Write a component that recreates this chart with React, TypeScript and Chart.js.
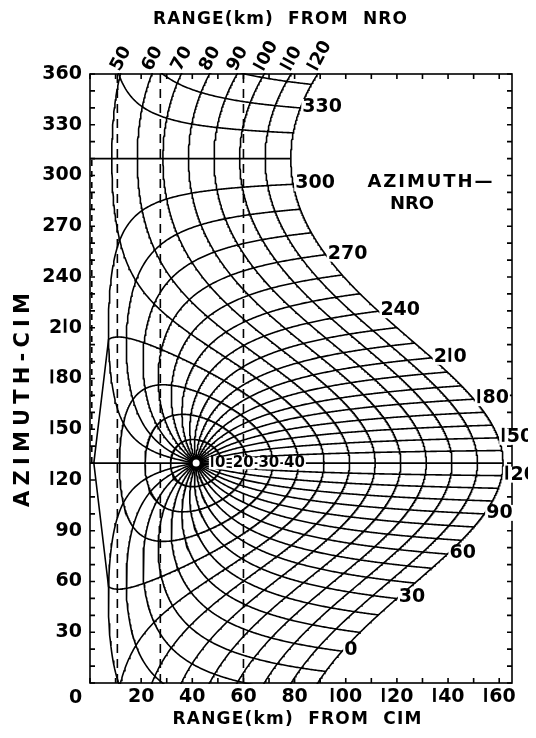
import React, { useEffect, useRef } from "react";
import { Chart, registerables } from "chart.js";
Chart.register(...registerables);

// ---- data ----
const NRO_RANGE_KM = 41.5; // NRO position seen from CIM
const NRO_AZIMUTH_DEG = 130;
const NRO_RANGE_RINGS = [10, 20, 30, 40, 50, 60, 70, 80, 90, 100, 110, 120];
const NRO_AZIMUTH_LINES = [0, 10, 20, 30, 40, 50, 60, 70, 80, 90, 100, 110, 120, 130, 140, 150, 160, 170, 180, 190, 200, 210, 220, 230, 240, 250, 260, 270, 280, 290, 300, 310, 320, 330, 340, 350];
const NRO_AZIMUTH_LABELS = [0, 30, 60, 90, 120, 150, 180, 210, 240, 270, 300, 330];
const TOP_RANGE_LABELS = [50, 60, 70, 80, 90, 100, 110, 120];
const INNER_RANGE_LABELS = [10, 20, 30, 40];
const DASHED_CIM_RANGES = [10.7, 27.5, 60];
const X_TICKS = [20, 40, 60, 80, 100, 120, 140, 160];
const Y_TICKS = [30, 60, 90, 120, 150, 180, 210, 240, 270, 300, 330, 360];
const X_MAX = 165;
const Y_MAX = 360;
const MAX_NRO_RANGE = 120;
const GRID_STEP_DEG = 10;

// ---- geometry ----
const toRad = (d: number) => (d * Math.PI) / 180;
const NX = NRO_RANGE_KM * Math.sin(toRad(NRO_AZIMUTH_DEG));
const NY = NRO_RANGE_KM * Math.cos(toRad(NRO_AZIMUTH_DEG));

function fromNro(range: number, az: number) {
  const px = NX + range * Math.sin(toRad(az));
  const py = NY + range * Math.cos(toRad(az));
  let th = (Math.atan2(px, py) * 180) / Math.PI;
  if (th < 0) th += 360;
  return { r: Math.hypot(px, py), th };
}

type P = { x: number; y: number };

function buildSegments(samples: { r: number; th: number }[]): P[][] {
  const segs: P[][] = [];
  let cur: P[] = [];
  let prev: number | null = null;
  for (const s of samples) {
    let th = s.th;
    if (prev !== null) {
      while (th - prev > 180) th -= 360;
      while (th - prev < -180) th += 360;
      if (Math.abs(th - prev) > 90) {
        segs.push(cur);
        cur = [];
        th = s.th;
      }
    }
    cur.push({ x: s.r, y: th });
    prev = th;
  }
  segs.push(cur);
  const out: P[][] = [];
  for (const seg of segs) {
    if (seg.length < 2) continue;
    out.push(seg);
    const ys = seg.map((p) => p.y);
    const mn = Math.min(...ys);
    const mx = Math.max(...ys);
    if (mx > 360) out.push(seg.map((p) => ({ x: p.x, y: p.y - 360 })));
    if (mn < 0) out.push(seg.map((p) => ({ x: p.x, y: p.y + 360 })));
  }
  return out;
}

function ringSegments(R: number): P[][] {
  const samples: { r: number; th: number }[] = [];
  const far = NRO_AZIMUTH_DEG + 180;
  // rings whose tip nearly touches CIM are joined straight between grid vertices there
  const straightTip = R < NRO_RANGE_KM && NRO_RANGE_KM - R < 5;
  for (let a = -180; a <= 180; a += 0.5) {
    if (straightTip && Math.abs(a) < GRID_STEP_DEG && a !== 0) continue;
    samples.push(fromNro(R, far + a));
  }
  return buildSegments(samples);
}

function azimuthSegments(az: number): P[][] {
  const rs = [0];
  for (let v = 0.25; v < MAX_NRO_RANGE; v += 0.5) rs.push(v);
  rs.push(MAX_NRO_RANGE);
  return buildSegments(rs.map((R) => fromNro(R, az)));
}

const solid = (data: P[]) => ({
  data,
  showLine: true,
  borderColor: "#000",
  borderWidth: 1.6,
  pointRadius: 0,
  fill: false,
  tension: 0,
  clip: 1,
});

function buildDatasets() {
  const ds: any[] = [];
  NRO_RANGE_RINGS.forEach((R) => ringSegments(R).forEach((s) => ds.push(solid(s))));
  NRO_AZIMUTH_LINES.forEach((a) => azimuthSegments(a).forEach((s) => ds.push(solid(s))));
  DASHED_CIM_RANGES.forEach((x) =>
    ds.push({ ...solid([{ x, y: 0 }, { x, y: Y_MAX }]), borderDash: [9, 6] })
  );
  // the NRO azimuth line that runs through CIM itself
  ds.push({
    ...solid([
      { x: 0.7, y: NRO_AZIMUTH_DEG },
      { x: 0.7, y: NRO_AZIMUTH_DEG + 180 },
    ]),
    borderDash: [6, 5],
  });
  return ds;
}

const FONT = '"DejaVu Sans", sans-serif';

function drawSpaced(ctx: CanvasRenderingContext2D, text: string, cx: number, cy: number, targetW: number) {
  const chars = [...text];
  const widths = chars.map((c) => ctx.measureText(c).width);
  const base = widths.reduce((a, b) => a + b, 0);
  const sp = chars.length > 1 ? (targetW - base) / (chars.length - 1) : 0;
  let x = cx - targetW / 2;
  ctx.textAlign = "left";
  ctx.textBaseline = "middle";
  chars.forEach((c, i) => {
    ctx.fillText(c, x, cy);
    x += widths[i] + sp;
  });
}

// numbers drawn with a plain-bar "1", like the original lettering
function numWidth(ctx: CanvasRenderingContext2D, text: string) {
  const w0 = ctx.measureText("0").width;
  return [...text].reduce((s, c) => s + (c === "1" ? w0 * 0.5 : ctx.measureText(c).width), 0);
}
function drawNum(ctx: CanvasRenderingContext2D, text: string, x: number, y: number) {
  const m0 = ctx.measureText("0");
  const w0 = m0.width;
  const top = y - m0.actualBoundingBoxAscent;
  const bot = y + m0.actualBoundingBoxDescent;
  let cx = x;
  ctx.textAlign = "left";
  for (const c of text) {
    if (c === "1") {
      const bw = w0 * 0.2;
      ctx.fillRect(cx + w0 * 0.22 - bw / 2, top, bw, bot - top);
      cx += w0 * 0.5;
    } else {
      ctx.fillText(c, cx, y);
      cx += ctx.measureText(c).width;
    }
  }
}

function labelBg(ctx: CanvasRenderingContext2D, text: string, x: number, y: number, size: number, align: "left" | "center") {
  const w = numWidth(ctx, text);
  const left = align === "center" ? x - w / 2 : x;
  ctx.fillStyle = "#fff";
  ctx.fillRect(left - 1, y - size * 0.42, w + 2, size * 0.84);
  ctx.fillStyle = "#000";
  ctx.textBaseline = "middle";
  drawNum(ctx, text, left, y);
}

const annotPlugin = {
  id: "annot",
  afterDatasetsDraw(chart: any) {
    const { ctx, chartArea: a, scales } = chart;
    const xs = scales.x;
    const ys = scales.y;
    ctx.save();
    ctx.strokeStyle = "#000";
    ctx.fillStyle = "#000";
    ctx.lineWidth = 1.6;
    // NRO site marker
    const nx = xs.getPixelForValue(NRO_RANGE_KM);
    const ny = ys.getPixelForValue(NRO_AZIMUTH_DEG);
    ctx.beginPath();
    ctx.arc(nx, ny, 7.5, 0, Math.PI * 2);
    ctx.fill();
    ctx.fillStyle = "#fff";
    ctx.beginPath();
    ctx.arc(nx, ny, 3.5, 0, Math.PI * 2);
    ctx.fill();
    ctx.fillStyle = "#000";

    // frame with inward ticks
    ctx.strokeRect(a.left, a.top, a.right - a.left, a.bottom - a.top);
    ctx.beginPath();
    for (let v = 0; v <= X_MAX; v += 10) {
      const px = xs.getPixelForValue(v);
      ctx.moveTo(px, a.bottom);
      ctx.lineTo(px, a.bottom - 5);
      ctx.moveTo(px, a.top);
      ctx.lineTo(px, a.top + 5);
    }
    for (let v = 0; v <= Y_MAX; v += 10) {
      const py = ys.getPixelForValue(v);
      ctx.moveTo(a.left, py);
      ctx.lineTo(a.left + 5, py);
      ctx.moveTo(a.right, py);
      ctx.lineTo(a.right - 5, py);
    }
    ctx.stroke();

    // axis tick labels at the scales' own positions
    ctx.font = `bold 19px ${FONT}`;
    ctx.textBaseline = "middle";
    X_TICKS.forEach((v) => {
      const t = String(v);
      drawNum(ctx, t, xs.getPixelForValue(v) - numWidth(ctx, t) / 2, a.bottom + 14);
    });
    Y_TICKS.forEach((v) => {
      const t = String(v);
      drawNum(ctx, t, a.left - 8 - numWidth(ctx, t), ys.getPixelForValue(v));
    });
    drawNum(ctx, "0", 61, a.bottom + 15);

    // inner range labels
    ctx.font = `bold 15px ${FONT}`;
    INNER_RANGE_LABELS.forEach((R) => {
      const px = xs.getPixelForValue(NRO_RANGE_KM + R) - 4;
      labelBg(ctx, String(R), px, ny, 15, "center");
    });

    // NRO azimuth labels at the outer ring
    ctx.font = `bold 19px ${FONT}`;
    NRO_AZIMUTH_LABELS.forEach((az) => {
      const e = fromNro(MAX_NRO_RANGE, az);
      const px = xs.getPixelForValue(e.r) + 2;
      const py = ys.getPixelForValue(e.th) - 1;
      labelBg(ctx, String(az), px, py, 19, "left");
    });

    // top range labels (where each ring meets azimuth 360)
    ctx.font = `bold 18px ${FONT}`;
    TOP_RANGE_LABELS.forEach((R) => {
      const r = NY + Math.sqrt(R * R - NX * NX);
      const px = xs.getPixelForValue(r) - 1;
      ctx.save();
      ctx.translate(px, a.top - 2);
      ctx.rotate(toRad(-62));
      ctx.textBaseline = "alphabetic";
      drawNum(ctx, String(R), 0, 0);
      ctx.restore();
    });

    // axis titles
    ctx.font = `bold 17px ${FONT}`;
    drawSpaced(ctx, "RANGE(km)  FROM  NRO", 272, 12, 254);
    drawSpaced(ctx, "RANGE(km)  FROM  CIM", 289, 712, 249);
    ctx.save();
    ctx.translate(16, 392);
    ctx.rotate(-Math.PI / 2);
    ctx.font = `bold 21px ${FONT}`;
    drawSpaced(ctx, "AZIMUTH-CIM", 0, 0, 214);
    ctx.restore();
    ctx.font = `bold 18px ${FONT}`;
    drawSpaced(ctx, "AZIMUTH—", 360 + 62, 174, 125);
    ctx.textAlign = "center";
    ctx.textBaseline = "middle";
    ctx.fillText("NRO", 404, 196);
    ctx.restore();
  },
};

export default function App() {
  const ref = useRef<HTMLCanvasElement>(null);
  useEffect(() => {
    if (!ref.current) return;
    const chart = new Chart(ref.current, {
      type: "scatter",
      data: { datasets: buildDatasets() },
      options: {
        responsive: false,
        animation: false,
        events: [],
        layout: { padding: { top: 66, right: 24, left: 0, bottom: 0 } },
        plugins: { legend: { display: false }, tooltip: { enabled: false } },
        scales: {
          x: {
            type: "linear",
            min: 0,
            max: X_MAX,
            grid: { display: false, drawTicks: false },
            border: { display: false },
            afterBuildTicks: (s: any) => {
              s.ticks = X_TICKS.map((v) => ({ value: v }));
            },
            afterFit: (s: any) => {
              s.height = 47;
            },
            ticks: { display: false },
          },
          y: {
            type: "linear",
            min: 0,
            max: Y_MAX,
            grid: { display: false, drawTicks: false },
            border: { display: false },
            afterBuildTicks: (s: any) => {
              s.ticks = Y_TICKS.map((v) => ({ value: v }));
            },
            afterFit: (s: any) => {
              s.width = 82;
            },
            ticks: { display: false },
          },
        },
      },
      plugins: [annotPlugin],
    } as any);
    return () => chart.destroy();
  }, []);
  return (
    <canvas ref={ref} width={528} height={722} style={{ display: "block", width: 528, height: 722 }} />
  );
}
